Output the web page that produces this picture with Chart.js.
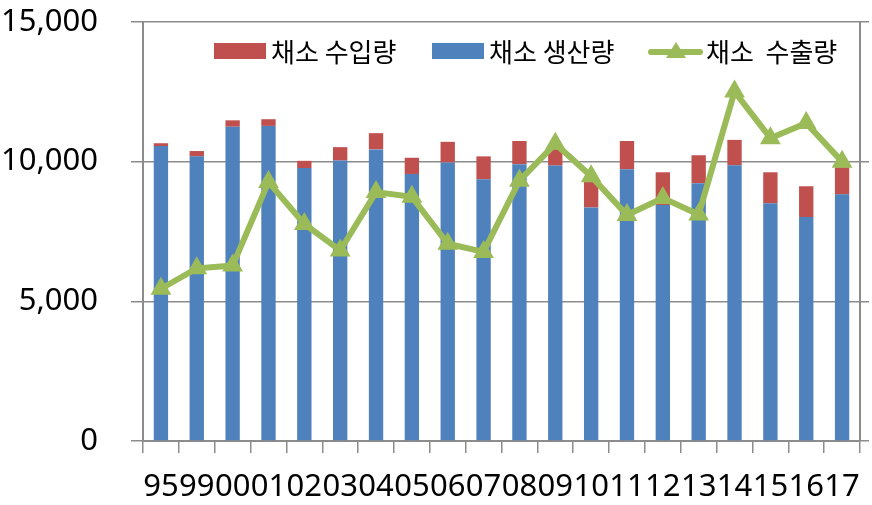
<!DOCTYPE html>
<html>
<head>
<meta charset="utf-8">
<script src="https://cdn.jsdelivr.net/npm/chart.js@4/dist/chart.umd.min.js"></script>
<style>
  html, body { margin: 0; padding: 0; background: #fff; }
  #wrap { position: relative; width: 872px; height: 505px; overflow: hidden; }
  canvas { position: absolute; left: 0; top: 0; }
  .lg { position: absolute; font-family: "Noto Sans CJK KR", "Noto Sans", sans-serif; font-size: 26px; color: #000; white-space: pre; line-height: 26px; }
  .box { position: absolute; height: 16px; width: 52px; }
  .ln { position: absolute; height: 6px; width: 55px; background: #9BBB59; border-radius: 3px; }
  .tri { position: absolute; width: 0; height: 0; border-left: 10px solid transparent; border-right: 10px solid transparent; border-bottom: 16px solid #9BBB59; }
</style>
</head>
<body>
<div id="wrap">
  <canvas id="c" width="872" height="505"></canvas>
  <div class="box" style="left:214px; top:43px; background:#C0504D;"></div>
  <div class="lg" style="left:271px; top:38px;">채소 수입량</div>
  <div class="box" style="left:432px; top:43px; background:#4F81BD;"></div>
  <div class="lg" style="left:489px; top:38px;">채소 생산량</div>
  <div class="ln" style="left:648px; top:49px;"></div>
  <div class="tri" style="left:666px; top:42px;"></div>
  <div class="lg" style="left:706px; top:38px;">채소  수출량</div>
</div>
<script>
const categories = ["95","99","00","01","02","03","04","05","06","07","08","09","10","11","12","13","14","15","16","17"];
const production = [10560,10190,11250,11280,9770,10040,10440,9560,9970,9370,9910,9860,8360,9730,8450,9230,9870,8510,8020,8830];
const imports    = [100,190,230,240,260,480,580,580,740,820,830,590,920,1010,1170,1000,910,1110,1100,970];
const exports_   = [5450,6180,6280,9270,7770,6820,8910,8740,7060,6770,9320,10640,9480,8090,8700,8110,12510,10840,11380,10000];
const yTicks = [0, 5000, 10000, 15000];

const GRID = '#8c8c8c';

new Chart(document.getElementById('c'), {
  data: {
    labels: categories,
    datasets: [
      { type: 'line', label: '채소  수출량', data: exports_, yAxisID: 'y', order: 0,
        borderColor: '#9BBB59', borderWidth: 6, backgroundColor: '#9BBB59',
        pointStyle: 'triangle', pointRadius: 12, pointBorderWidth: 0,
        pointBackgroundColor: '#9BBB59', tension: 0, fill: false },
      { type: 'bar', label: '채소 생산량', data: production, yAxisID: 'y', order: 1, stack: 's',
        backgroundColor: '#4F81BD', barPercentage: 0.4, categoryPercentage: 1.0 },
      { type: 'bar', label: '채소 수입량', data: imports, yAxisID: 'y', order: 1, stack: 's',
        backgroundColor: '#C0504D', barPercentage: 0.4, categoryPercentage: 1.0 }
    ]
  },
  options: {
    responsive: false,
    animation: false,
    devicePixelRatio: 1,
    layout: { padding: 0 },
    plugins: { legend: { display: false }, tooltip: { enabled: false } },
    scales: {
      x: {
        stacked: true,
        offset: true,
        grid: { display: true, drawOnChartArea: false, offset: true, tickLength: 12, color: GRID, lineWidth: 1.5 },
        border: { display: true, color: GRID, width: 2 },
        ticks: { autoSkip: false, maxRotation: 0, minRotation: 0, padding: 16, color: '#000',
                 font: { family: 'Noto Sans', size: 31 } },
        afterFit: (s) => { s.height = 64; s.paddingLeft = 0; s.paddingRight = 0; }
      },
      y: {
        stacked: true,
        position: 'left',
        min: 0, max: 15000,
        afterBuildTicks: (s) => { s.ticks = yTicks.map(v => ({ value: v })); },
        grid: { color: GRID, lineWidth: 1.5, tickLength: 12 },
        border: { display: true, color: GRID, width: 2 },
        ticks: { padding: 33, color: '#000', font: { family: 'Noto Sans', size: 31 },
                 callback: (v) => v.toLocaleString('en-US') },
        afterFit: (s) => { s.width = 143; s.paddingTop = 22; s.paddingBottom = 0; }
      },
      y2: {
        position: 'right',
        min: 0, max: 15000,
        afterBuildTicks: (s) => { s.ticks = yTicks.map(v => ({ value: v })); },
        grid: { drawOnChartArea: false, color: GRID, lineWidth: 1.5, tickLength: 9 },
        border: { display: true, color: GRID, width: 2 },
        ticks: { display: false },
        afterFit: (s) => { s.width = 9; s.paddingTop = 22; s.paddingBottom = 0; }
      }
    }
  }
});
</script>
</body>
</html>
